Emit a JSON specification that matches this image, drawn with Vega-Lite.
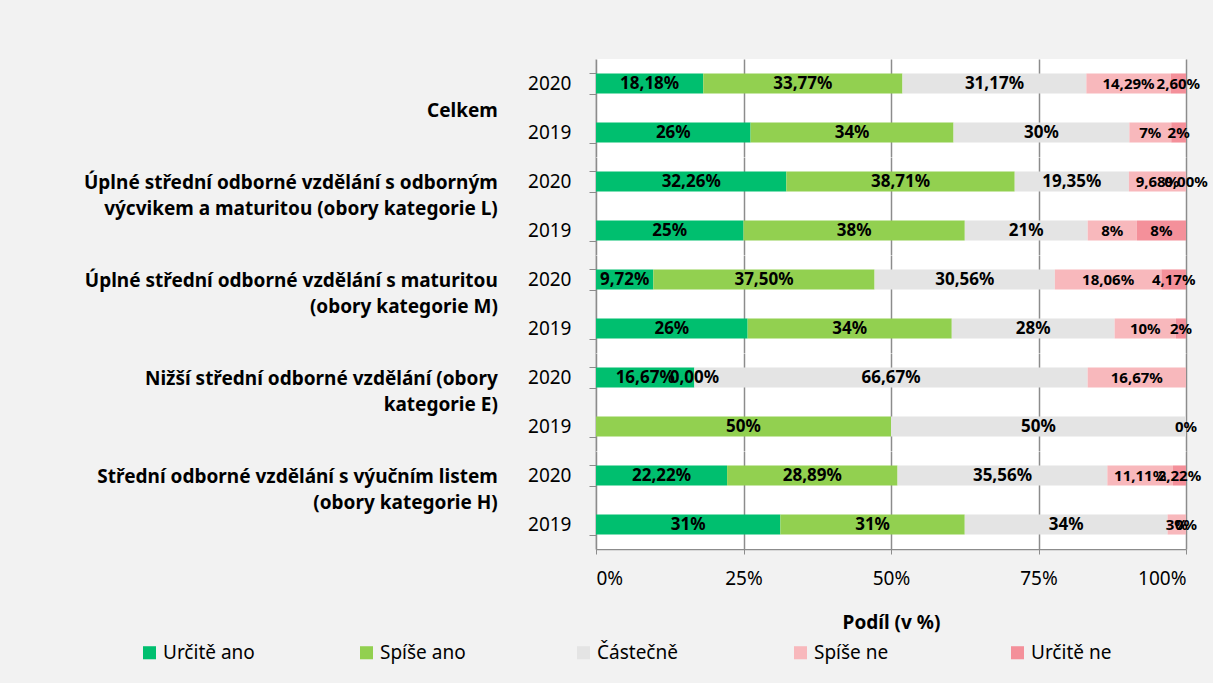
{
  "$schema": "https://vega.github.io/schema/vega-lite/v6.json",
  "background": "#f2f2f2",
  "padding": {"left": 84, "top": 50, "right": 5, "bottom": 20},
  "bounds": "flush",
  "data": {"values": [
    {"g": "A", "year": "2020", "cat": "|Celkem", "resp": "Určitě ano", "o": 1, "value": 18.18, "label": "18,18%"},
    {"g": "A", "year": "2020", "cat": "", "resp": "Spíše ano", "o": 2, "value": 33.77, "label": "33,77%"},
    {"g": "A", "year": "2020", "cat": "", "resp": "Částečně", "o": 3, "value": 31.17, "label": "31,17%"},
    {"g": "A", "year": "2020", "cat": "", "resp": "Spíše ne", "o": 4, "value": 14.29, "label": "14,29%"},
    {"g": "A", "year": "2020", "cat": "", "resp": "Určitě ne", "o": 5, "value": 2.60, "label": "2,60%"},
    {"g": "A", "year": "2019", "cat": "", "resp": "Určitě ano", "o": 1, "value": 26.2, "label": "26%"},
    {"g": "A", "year": "2019", "cat": "", "resp": "Spíše ano", "o": 2, "value": 34.4, "label": "34%"},
    {"g": "A", "year": "2019", "cat": "", "resp": "Částečně", "o": 3, "value": 29.8, "label": "30%"},
    {"g": "A", "year": "2019", "cat": "", "resp": "Spíše ne", "o": 4, "value": 7.1, "label": "7%"},
    {"g": "A", "year": "2019", "cat": "", "resp": "Určitě ne", "o": 5, "value": 2.5, "label": "2%"},
    {"g": "B", "year": "2020", "cat": "Úplné střední odborné vzdělání s odborným|výcvikem a maturitou (obory kategorie L)", "resp": "Určitě ano", "o": 1, "value": 32.26, "label": "32,26%"},
    {"g": "B", "year": "2020", "cat": "", "resp": "Spíše ano", "o": 2, "value": 38.71, "label": "38,71%"},
    {"g": "B", "year": "2020", "cat": "", "resp": "Částečně", "o": 3, "value": 19.35, "label": "19,35%"},
    {"g": "B", "year": "2020", "cat": "", "resp": "Spíše ne", "o": 4, "value": 9.68, "label": "9,68%"},
    {"g": "B", "year": "2020", "cat": "", "resp": "Určitě ne", "o": 5, "value": 0, "label": "0,00%"},
    {"g": "B", "year": "2019", "cat": "", "resp": "Určitě ano", "o": 1, "value": 25, "label": "25%"},
    {"g": "B", "year": "2019", "cat": "", "resp": "Spíše ano", "o": 2, "value": 37.5, "label": "38%"},
    {"g": "B", "year": "2019", "cat": "", "resp": "Částečně", "o": 3, "value": 20.83, "label": "21%"},
    {"g": "B", "year": "2019", "cat": "", "resp": "Spíše ne", "o": 4, "value": 8.33, "label": "8%"},
    {"g": "B", "year": "2019", "cat": "", "resp": "Určitě ne", "o": 5, "value": 8.33, "label": "8%"},
    {"g": "C", "year": "2020", "cat": "Úplné střední odborné vzdělání s maturitou|(obory kategorie M)", "resp": "Určitě ano", "o": 1, "value": 9.72, "label": "9,72%"},
    {"g": "C", "year": "2020", "cat": "", "resp": "Spíše ano", "o": 2, "value": 37.50, "label": "37,50%"},
    {"g": "C", "year": "2020", "cat": "", "resp": "Částečně", "o": 3, "value": 30.56, "label": "30,56%"},
    {"g": "C", "year": "2020", "cat": "", "resp": "Spíše ne", "o": 4, "value": 18.06, "label": "18,06%"},
    {"g": "C", "year": "2020", "cat": "", "resp": "Určitě ne", "o": 5, "value": 4.17, "label": "4,17%"},
    {"g": "C", "year": "2019", "cat": "", "resp": "Určitě ano", "o": 1, "value": 25.7, "label": "26%"},
    {"g": "C", "year": "2019", "cat": "", "resp": "Spíše ano", "o": 2, "value": 34.6, "label": "34%"},
    {"g": "C", "year": "2019", "cat": "", "resp": "Částečně", "o": 3, "value": 27.6, "label": "28%"},
    {"g": "C", "year": "2019", "cat": "", "resp": "Spíše ne", "o": 4, "value": 10.4, "label": "10%"},
    {"g": "C", "year": "2019", "cat": "", "resp": "Určitě ne", "o": 5, "value": 1.7, "label": "2%"},
    {"g": "D", "year": "2020", "cat": "Nižší střední odborné vzdělání (obory|kategorie E)", "resp": "Určitě ano", "o": 1, "value": 16.67, "label": "16,67%"},
    {"g": "D", "year": "2020", "cat": "", "resp": "Spíše ano", "o": 2, "value": 0, "label": "0,00%"},
    {"g": "D", "year": "2020", "cat": "", "resp": "Částečně", "o": 3, "value": 66.67, "label": "66,67%"},
    {"g": "D", "year": "2020", "cat": "", "resp": "Spíše ne", "o": 4, "value": 16.67, "label": "16,67%"},
    {"g": "D", "year": "2020", "cat": "", "resp": "Určitě ne", "o": 5, "value": 0, "label": ""},
    {"g": "D", "year": "2019", "cat": "", "resp": "Určitě ano", "o": 1, "value": 0, "label": ""},
    {"g": "D", "year": "2019", "cat": "", "resp": "Spíše ano", "o": 2, "value": 50, "label": "50%"},
    {"g": "D", "year": "2019", "cat": "", "resp": "Částečně", "o": 3, "value": 50, "label": "50%"},
    {"g": "D", "year": "2019", "cat": "", "resp": "Spíše ne", "o": 4, "value": 0, "label": ""},
    {"g": "D", "year": "2019", "cat": "", "resp": "Určitě ne", "o": 5, "value": 0, "label": "0%"},
    {"g": "E", "year": "2020", "cat": "Střední odborné vzdělání s výučním listem|(obory kategorie H)", "resp": "Určitě ano", "o": 1, "value": 22.22, "label": "22,22%"},
    {"g": "E", "year": "2020", "cat": "", "resp": "Spíše ano", "o": 2, "value": 28.89, "label": "28,89%"},
    {"g": "E", "year": "2020", "cat": "", "resp": "Částečně", "o": 3, "value": 35.56, "label": "35,56%"},
    {"g": "E", "year": "2020", "cat": "", "resp": "Spíše ne", "o": 4, "value": 11.11, "label": "11,11%"},
    {"g": "E", "year": "2020", "cat": "", "resp": "Určitě ne", "o": 5, "value": 2.22, "label": "2,22%"},
    {"g": "E", "year": "2019", "cat": "", "resp": "Určitě ano", "o": 1, "value": 31.25, "label": "31%"},
    {"g": "E", "year": "2019", "cat": "", "resp": "Spíše ano", "o": 2, "value": 31.25, "label": "31%"},
    {"g": "E", "year": "2019", "cat": "", "resp": "Částečně", "o": 3, "value": 34.38, "label": "34%"},
    {"g": "E", "year": "2019", "cat": "", "resp": "Spíše ne", "o": 4, "value": 3.12, "label": "3%"},
    {"g": "E", "year": "2019", "cat": "", "resp": "Určitě ne", "o": 5, "value": 0, "label": "0%"}
  ]},
  "transform": [
    {"stack": "value", "groupby": ["g", "year"], "sort": [{"field": "o"}], "as": ["x0", "x1"], "offset": "normalize"},
    {"calculate": "(datum.x0 + datum.x1) / 2", "as": "xm"}
  ],
  "facet": {
    "row": {
      "field": "g",
      "type": "nominal",
      "sort": ["A", "B", "C", "D", "E"],
      "header": {"labels": false, "title": null}
    }
  },
  "spacing": 0,
  "spec": {
    "width": 590,
    "height": 98,
    "encoding": {
      "y": {
        "field": "year",
        "type": "nominal",
        "sort": "descending",
        "title": null,
        "scale": {"paddingInner": 0.59, "paddingOuter": 0.295},
        "axis": {
          "labelFont": "Noto Sans",
          "labelFontSize": 19,
          "labelColor": "#000000",
          "labelPadding": 18,
          "tickSize": 7,
          "tickBand": "extent",
          "tickColor": "#8c8c8c",
          "domainColor": "#8c8c8c",
          "domainWidth": 1.5,
          "grid": false
        }
      }
    },
    "layer": [
      {
        "mark": {"type": "bar"},
        "encoding": {
          "x": {
            "field": "x0",
            "type": "quantitative",
            "scale": {"domain": [0, 1]},
            "title": "Podíl (v %)",
            "axis": {
              "format": ".0%",
              "values": [0, 0.25, 0.5, 0.75, 1],
              "labelFont": "Noto Sans",
              "labelFontSize": 19,
              "labelColor": "#000000",
              "labelPadding": 15,
              "tickSize": 5,
              "tickColor": "#8c8c8c",
              "domainColor": "#8c8c8c",
              "domainWidth": 1.5,
              "gridColor": "#8c8c8c",
              "gridWidth": 1.5,
              "titleFont": "Noto Sans",
              "titleFontSize": 19,
              "titleFontWeight": "bold",
              "titleColor": "#000000",
              "titlePadding": 25
            }
          },
          "x2": {"field": "x1"},
          "color": {
            "field": "resp",
            "type": "nominal",
            "sort": ["Určitě ano", "Spíše ano", "Částečně", "Spíše ne", "Určitě ne"],
            "scale": {
              "domain": ["Určitě ano", "Spíše ano", "Částečně", "Spíše ne", "Určitě ne"],
              "range": ["#00bf6f", "#92d050", "#e4e4e4", "#f8b8bc", "#f4909a"]
            },
            "legend": {
              "title": null,
              "orient": "none",
              "direction": "horizontal",
              "columns": 5,
              "gridAlign": "all",
              "columnPadding": 102,
              "legendX": -456,
              "legendY": 584,
              "symbolType": "square",
              "symbolSize": 170,
              "symbolStrokeWidth": 0,
              "labelFont": "Noto Sans",
              "labelFontSize": 19,
              "labelColor": "#000000",
              "labelOffset": 4,
              "labelLimit": 200
            }
          }
        }
      },
      {
        "mark": {"type": "text", "font": "Noto Sans", "fontWeight": "bold", "baseline": "middle", "align": "center", "color": "#000000"},
        "encoding": {
          "x": {"field": "xm", "type": "quantitative"},
          "text": {"field": "label"},
          "size": {
            "condition": {"test": "datum.resp === 'Spíše ne' || datum.resp === 'Určitě ne'", "value": 15},
            "value": 17
          }
        }
      },
      {
        "transform": [{"filter": "datum.cat !== ''"}],
        "mark": {"type": "text", "font": "Noto Sans", "fontWeight": "bold", "fontSize": 19, "baseline": "alphabetic", "align": "right", "color": "#000000", "lineBreak": "|", "lineHeight": 26, "dy": 7},
        "encoding": {
          "x": {"datum": -0.1664, "type": "quantitative"},
          "text": {"field": "cat"}
        }
      }
    ]
  },
  "config": {
    "view": {"stroke": null, "fill": "#ffffff"}
  }
}
